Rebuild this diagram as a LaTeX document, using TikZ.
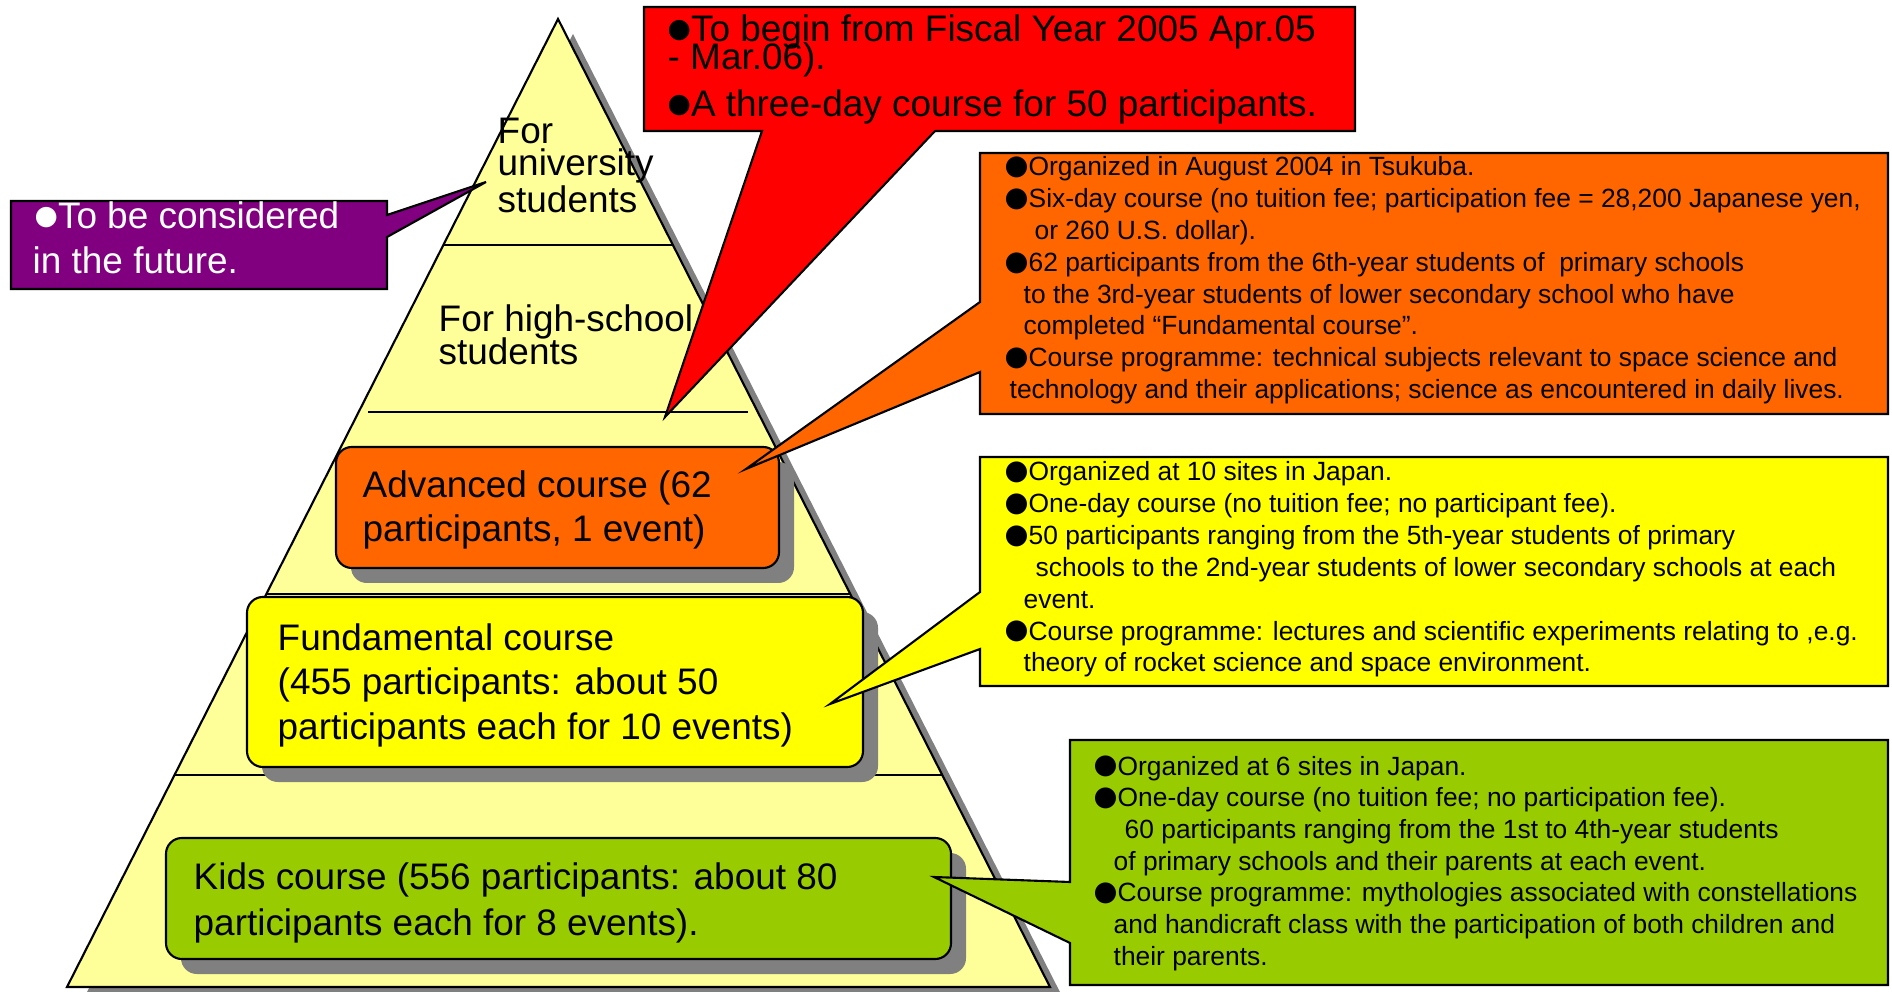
\documentclass[tikz,border=0pt]{standalone}
\usepackage{fontspec}
\setmainfont{Liberation Sans}
\newfontfamily\dotfont{DejaVu Sans}
\usetikzlibrary{calc}
\definecolor{pyrfill}{RGB}{255,255,153}
\definecolor{shadowgray}{RGB}{128,128,128}
\definecolor{advorange}{RGB}{255,102,0}
\definecolor{fundyellow}{RGB}{255,255,0}
\definecolor{kidsgreen}{RGB}{153,204,0}
\definecolor{futpurple}{RGB}{128,0,128}
\definecolor{newred}{RGB}{255,0,0}
\newcommand\blt{\raisebox{1.3pt}{\dotfont\fontsize{7.6}{8}\selectfont ●}}
\newcommand\bigblt{\raisebox{0.3pt}{\dotfont\fontsize{7.8}{8}\selectfont ●}}
\tikzset{
  big/.style={anchor=base west,inner sep=0pt,font=\fontsize{10.5}{12.6}\selectfont},
  small/.style={anchor=base west,inner sep=0pt,font=\fontsize{7.5}{9}\selectfont},
  course/.style={draw,line width=0.6pt,rounded corners=4.5pt},
  callout/.style={draw,line width=0.6pt,line join=miter},
}
\begin{document}
\begin{tikzpicture}[x=0.01cm,y=-0.01cm]
	\useasboundingbox (0,0) rectangle (1892,992);
	% pyramid and its shadow
	\coordinate (apex) at (558,19);
	\coordinate (bl) at (67,987);
	\coordinate (br) at (1050,987);
	\fill[shadowgray] (573,34) -- (82,1002) -- (1065,1002) -- cycle;
	\draw[fill=pyrfill,line width=0.6pt,line join=miter] (apex) -- (bl) -- (br) -- cycle;
	\foreach \t in {0.2335,0.594,0.781}
		\draw[line width=0.6pt] ($(apex)!\t!(bl)$) -- ($(apex)!\t!(br)$);
	\draw[line width=0.6pt] (368,412) -- (748,412);
	% upper levels
	\node[big] (uni1) at (497,144) {For};
	\node[big] (uni2) at (497,176) {university};
	\node[big] (uni3) at (497,213) {students};
	\node[big] (high1) at (438,332) {For high-school};
	\node[big] (high2) at (438,365) {students};
	% course boxes
	\fill[shadowgray,rounded corners=4.5pt] (351,462) rectangle (794,583);
	\fill[shadowgray,rounded corners=4.5pt] (262,612) rectangle (878,782);
	\fill[shadowgray,rounded corners=4.5pt] (181,853) rectangle (966,974);
	\draw[course,fill=advorange] (336,447) rectangle (779,568);
	\draw[course,fill=fundyellow] (247,597) rectangle (863,767);
	\draw[course,fill=kidsgreen] (166,838) rectangle (951,959);
	\node[big] (adv1) at (362,498) {Advanced course (62};
	\node[big] (adv2) at (362,542) {participants, 1 event)};
	\node[big] (fun1) at (277,650) {Fundamental course};
	\node[big] (fun2) at (277,695) {(455 participants: about 50};
	\node[big] (fun3) at (277,739) {participants each for 10 events)};
	\node[big] (kid1) at (193,889) {Kids course (556 participants: about 80};
	\node[big] (kid2) at (193,935) {participants each for 8 events).};
	% callouts
	\draw[callout,fill=futpurple] (11,201) -- (387,201) -- (387,215) -- (486,182)
		-- (387,237) -- (387,289) -- (11,289) -- cycle;
	\node[big,text=white] (fut1) at (34,229) {\blt To be considered};
	\node[big,text=white] (fut2) at (32,274) {in the future.};
	\draw[callout,fill=newred] (644,7) -- (1355,7) -- (1355,131) -- (935,131)
		-- (665,417) -- (762,131) -- (644,131) -- cycle;
	\node[big] (new1) at (667,42) {\blt To begin from Fiscal Year 2005 Apr.05};
	\node[big] (new2) at (667,70) {- Mar.06).};
	\node[big] (new3) at (667,117) {\blt A three-day course for 50 participants.};
	\draw[callout,fill=advorange] (980,153) -- (1888,153) -- (1888,414) -- (980,414)
		-- (980,372) -- (746,469) -- (980,302) -- cycle;
	\foreach \x/\s [count=\i] in {
		1004/{\bigblt Organized in August 2004 in Tsukuba.},
		1004/{\bigblt Six-day course (no tuition fee; participation fee = 28,200 Japanese yen,},
		1034/{or 260 U.S. dollar).},
		1004/{\bigblt 62 participants from the 6th-year students of\ \ primary schools},
		1023/{to the 3rd-year students of lower secondary school who have},
		1023/{completed “Fundamental course”.},
		1004/{\bigblt Course programme: technical subjects relevant to space science and},
		1009/{technology and their applications; science as encountered in daily lives.}}
		\node[small] (advnote\i) at (\x,{176+31.8*(\i-1)}) {\s};
	\draw[callout,fill=fundyellow] (980,457) -- (1888,457) -- (1888,686) -- (980,686)
		-- (980,649) -- (830,704) -- (980,592) -- cycle;
	\foreach \x/\s [count=\i] in {
		1004/{\bigblt Organized at 10 sites in Japan.},
		1004/{\bigblt One-day course (no tuition fee; no participant fee).},
		1004/{\bigblt 50 participants ranging from the 5th-year students of primary},
		1035/{schools to the 2nd-year students of lower secondary schools at each},
		1023/{event.},
		1004/{\bigblt Course programme: lectures and scientific experiments relating to ,e.g.},
		1023/{theory of rocket science and space environment.}}
		\node[small] (funnote\i) at (\x,{481+31.8*(\i-1)}) {\s};
	\draw[callout,fill=kidsgreen] (1070,740) -- (1888,740) -- (1888,985) -- (1070,985)
		-- (1070,943) -- (934,877) -- (1070,882) -- cycle;
	\foreach \x/\s [count=\i] in {
		1093/{\bigblt Organized at 6 sites in Japan.},
		1093/{\bigblt One-day course (no tuition fee; no participation fee).},
		1124/{60 participants ranging from the 1st to 4th-year students},
		1113/{of primary schools and their parents at each event.},
		1093/{\bigblt Course programme: mythologies associated with constellations},
		1113/{and handicraft class with the participation of both children and},
		1113/{their parents.}}
		\node[small] (kidnote\i) at (\x,{775+31.7*(\i-1)}) {\s};
\end{tikzpicture}
\end{document}
